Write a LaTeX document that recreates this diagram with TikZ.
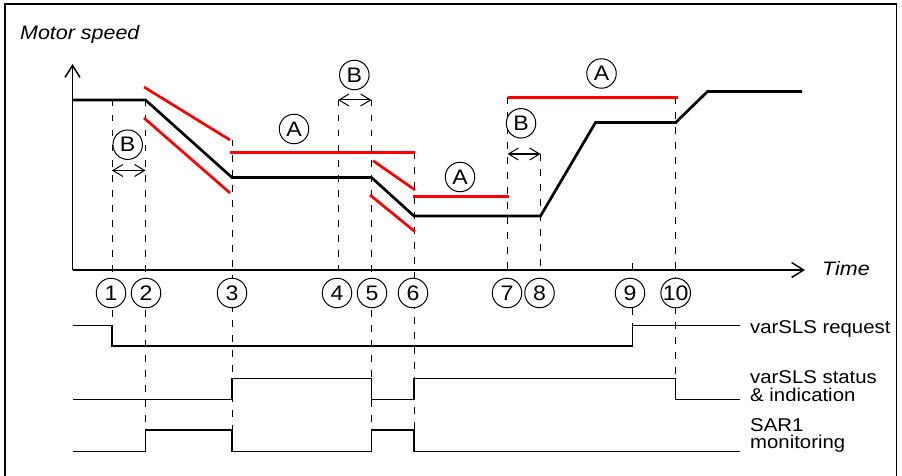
\documentclass[tikz,border=0pt]{standalone}
\usepackage{fontspec}
\setmainfont{Liberation Sans}[FakeStretch=1.1]
\usetikzlibrary{arrows.meta}
\begin{document}
\begin{tikzpicture}[x=1pt,y=-1pt,
  frame/.style={line width=1.5pt},
  curve/.style={line width=2.7pt, line join=miter},
  lim/.style={line width=2.7pt, red},
  axis/.style={line width=1.5pt, -{Straight Barb[length=12pt,width=15pt]}},
  sig/.style={line width=1.5pt},
  guide/.style={line width=1pt, dash pattern=on 6.5pt off 8.5pt},
  circ/.style={circle, draw, line width=1pt, fill=white, minimum size=29.5pt, inner sep=0pt, font=\fontsize{21}{21}\selectfont},
  span/.style={line width=1pt, {Straight Barb[length=10pt,width=12pt]}-{Straight Barb[length=10pt,width=12pt]}},
  lbl/.style={anchor=base west, inner sep=0pt, font=\fontsize{18.5}{18.5}\selectfont},
  ttl/.style={anchor=base west, inner sep=0pt, font=\fontsize{19.5}{19.5}\selectfont\itshape},
]
\useasboundingbox (0,0) rectangle (902,476);
% frame
\draw[frame] (5,476) -- (5,4) -- (896.5,4) -- (896.5,476);

% titles
\node[ttl] (ms) at (20,40) {Motor speed};
\node[ttl] (tm) at (822,275) {Time};

% axes
\coordinate (o) at (72.5,270);
\coordinate (ytip) at (72.5,64);
\coordinate (xtip) at (805,270);
\draw[axis] (o) -- (ytip);
\draw[axis] (o) -- (xtip);

% dashed guides
\foreach \n/\x/\t/\b in {1/112/100/325.7, 2/145.5/100/430, 3/232/140/430, 4/338/100/270,
  5/371.5/100/430, 6/414/152.3/430, 7/507.5/97.3/270, 8/540.5/154/270,
  9/632.7/263/325.7, 10/675.7/97.3/378.3}{
  \coordinate (t\n) at (\x,\t);
  \coordinate (b\n) at (\x,\b);
  \draw[guide] (t\n) -- (b\n);
}

% red limits
\draw[lim] (144,87) -- (230,140);
\draw[lim] (144,118) -- (230,193);
\draw[lim] (230,152.3) -- (415,152.3);
\draw[lim] (373,160.7) -- (415,190);
\draw[lim] (370,195) -- (415,231.7);
\draw[lim] (413,196.7) -- (509,196.7);
\draw[lim] (508,97.3) -- (678,97.3);

% speed curve
\draw[curve] (73,100) -- (145.5,100) -- (232,177.5) -- (371.5,177.5) -- (414,216)
  -- (540.5,216) -- (595.5,122.5) -- (675.7,122.5) -- (707.5,91.5) -- (802,91.5);

% B spans
\coordinate (bl1) at (112,170.5);   \coordinate (br1) at (145.5,170.5);
\coordinate (bl2) at (338,100);     \coordinate (br2) at (371.5,100);
\coordinate (bl3) at (507.5,154);   \coordinate (br3) at (540.5,154);
\draw[span] (bl1) -- (br1);
\draw[span] (bl2) -- (br2);
\draw[span] (bl3) -- (br3);
\node[circ] (B1) at (127.7,144.7) {B};
\node[circ] (B2) at (354.3,75) {B};
\node[circ] (B3) at (521,123.3) {B};

% A labels
\node[circ] (A1) at (294,129) {A};
\node[circ] (A2) at (460,177) {A};
\node[circ] (A3) at (601.5,73.5) {A};

% event numbers
\foreach \n/\x in {1/111,2/146,3/232,4/337,5/372,6/413,7/507,8/539.5,9/630,10/675.7}{
  \node[circ] (c\n) at (\x,293) {\n};
}

% signals
\draw[sig] (72.5,325.7) -- (112,325.7) -- (112,346) -- (632.7,346) -- (632.7,325.7) -- (740,325.7);
\draw[sig] (72.5,399.3) -- (232,399.3) -- (232,378.3) -- (371.5,378.3) -- (371.5,399.3)
  -- (414,399.3) -- (414,378.3) -- (675.7,378.3) -- (675.7,399.3) -- (740,399.3);
\draw[sig] (72.5,451.5) -- (145.5,451.5) -- (145.5,430) -- (232,430) -- (232,451.5)
  -- (371.5,451.5) -- (371.5,430) -- (414,430) -- (414,451.5) -- (740,451.5);

% signal labels
\node[lbl] (l1) at (750,333.3) {varSLS request};
\node[lbl] (l2a) at (750,383.3) {varSLS status};
\node[lbl] (l2b) at (750,401.7) {\& indication};
\node[lbl] (l3a) at (750,431.7) {SAR1};
\node[lbl] (l3b) at (750,448.5) {monitoring};
\end{tikzpicture}
\end{document}
